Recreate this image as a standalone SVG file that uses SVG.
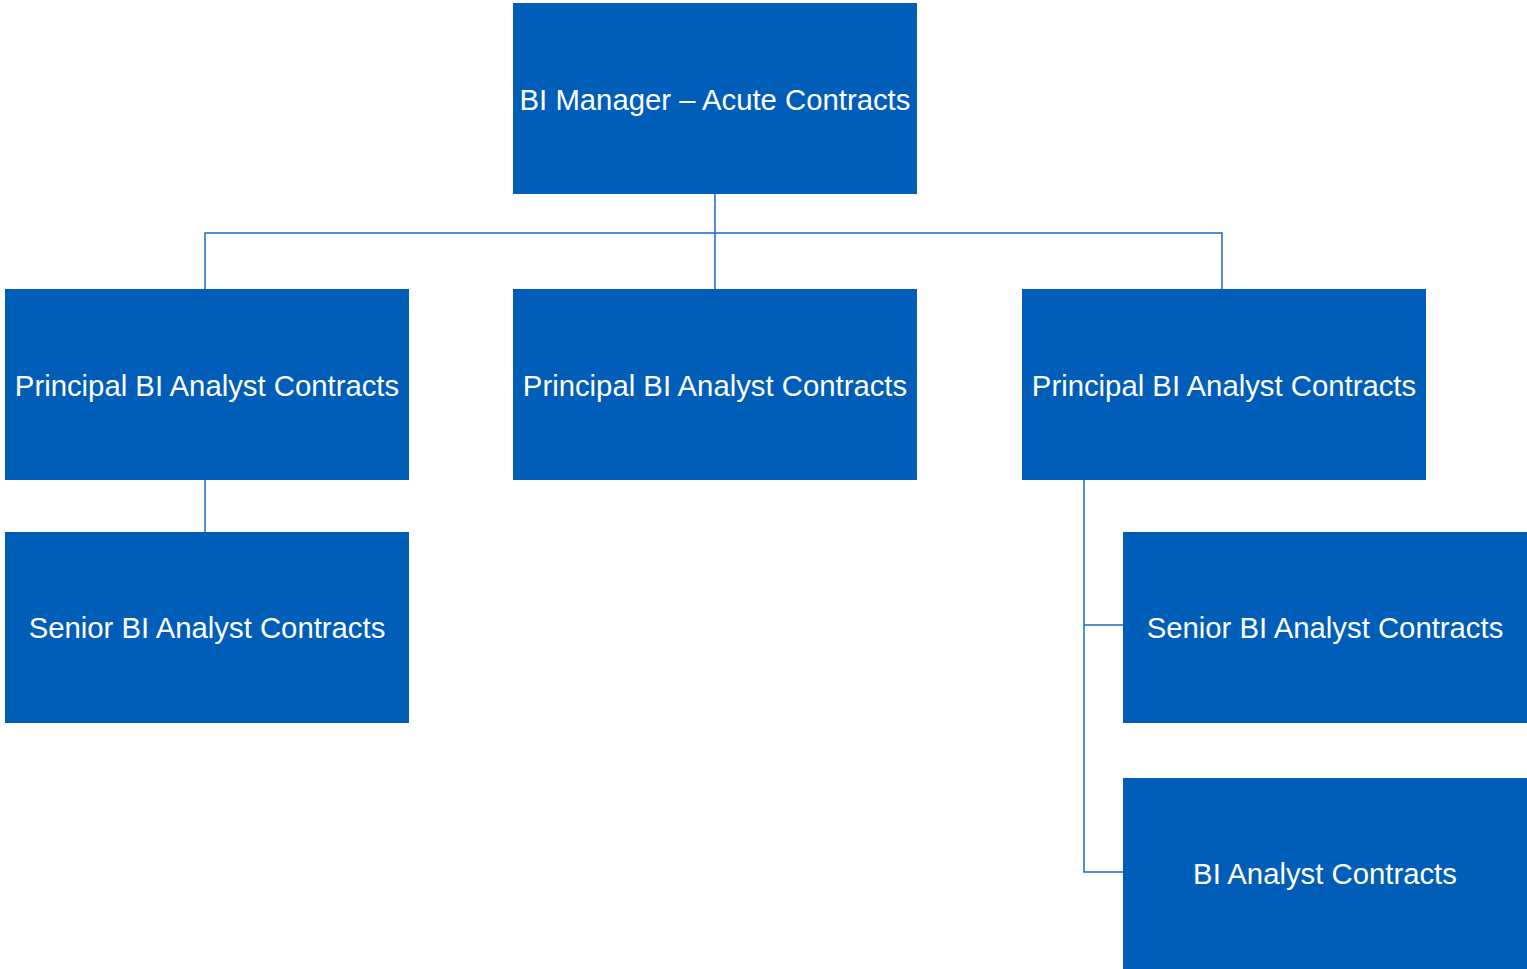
<svg xmlns="http://www.w3.org/2000/svg" width="1527" height="969" viewBox="0 0 1527 969">
<style>
.box{fill:#005EB8;}
.lbl{fill:#ffffff;font-family:"Liberation Sans",Arial,sans-serif;font-size:29.3px;text-anchor:middle;}
.conn{fill:none;stroke:#1f68c2;stroke-width:1.5;}
</style>
<rect width="1527" height="969" fill="#ffffff"/>
<g id="connectors">
<path class="conn" d="M715 194 V289"/>
<path class="conn" d="M205 289 V233 H1222 V289"/>
<path class="conn" d="M205 480 V532"/>
<path class="conn" d="M1084 480 V872 H1123"/>
<path class="conn" d="M1084 625 H1123"/>
</g>
<g id="n_manager"><rect class="box" x="513" y="3" width="404" height="191"/><text class="lbl" x="715" y="110">BI Manager – Acute Contracts</text></g>
<g id="n_principal1"><rect class="box" x="5" y="289" width="404" height="191"/><text class="lbl" x="207" y="396">Principal BI Analyst Contracts</text></g>
<g id="n_principal2"><rect class="box" x="513" y="289" width="404" height="191"/><text class="lbl" x="715" y="396">Principal BI Analyst Contracts</text></g>
<g id="n_principal3"><rect class="box" x="1022" y="289" width="404" height="191"/><text class="lbl" x="1224" y="396">Principal BI Analyst Contracts</text></g>
<g id="n_senior1"><rect class="box" x="5" y="532" width="404" height="191"/><text class="lbl" x="207" y="638">Senior BI Analyst Contracts</text></g>
<g id="n_senior2"><rect class="box" x="1123" y="532" width="404" height="191"/><text class="lbl" x="1325" y="638">Senior BI Analyst Contracts</text></g>
<g id="n_analyst"><rect class="box" x="1123" y="778" width="404" height="191"/><text class="lbl" x="1325" y="884">BI Analyst Contracts</text></g>
</svg>
